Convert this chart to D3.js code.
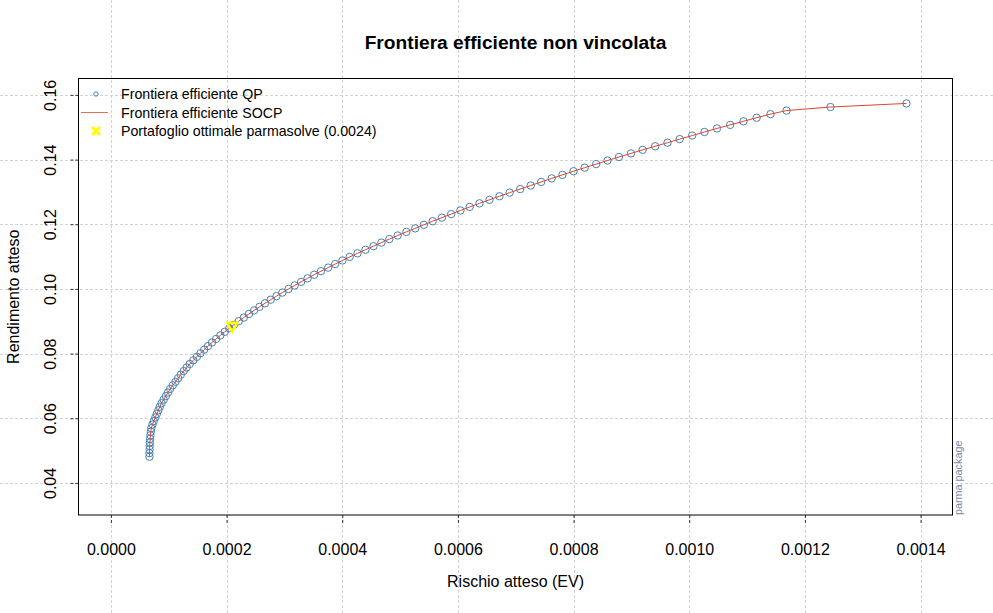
<!DOCTYPE html>
<html>
<head>
<meta charset="utf-8">
<script src="https://cdn.jsdelivr.net/npm/d3@7"></script>
<style>
  body { margin: 0; background: #fff; }
  text { font-family: "Liberation Sans", Arial, sans-serif; fill: #000; }
</style>
</head>
<body>
<div id="chart"></div>
<script>
// rendimento atteso (asse y), un punto ogni passo della frontiera QP
var rendimento = [
  0.04810, 0.04920, 0.05031, 0.05141, 0.05251, 0.05362, 0.05472, 0.05583, 0.05693, 0.05803,
  0.05914, 0.06024, 0.06134, 0.06245, 0.06355, 0.06465, 0.06576, 0.06686, 0.06796, 0.06907,
  0.07017, 0.07128, 0.07238, 0.07348, 0.07459, 0.07569, 0.07679, 0.07790, 0.07900, 0.08010,
  0.08121, 0.08231, 0.08342, 0.08452, 0.08562, 0.08673, 0.08783, 0.08893, 0.09004, 0.09114,
  0.09224, 0.09335, 0.09445, 0.09555, 0.09666, 0.09776, 0.09887, 0.09997, 0.10107, 0.10218,
  0.10328, 0.10438, 0.10549, 0.10659, 0.10769, 0.10880, 0.10990, 0.11101, 0.11211, 0.11321,
  0.11432, 0.11542, 0.11652, 0.11763, 0.11873, 0.11983, 0.12094, 0.12204, 0.12314, 0.12425,
  0.12535, 0.12646, 0.12756, 0.12866, 0.12977, 0.13087, 0.13197, 0.13308, 0.13418, 0.13528,
  0.13639, 0.13749, 0.13860, 0.13970, 0.14080, 0.14191, 0.14301, 0.14411, 0.14522, 0.14632,
  0.14742, 0.14853, 0.14963, 0.15073, 0.15184, 0.15294, 0.15405, 0.15515, 0.15625, 0.15736
]
// rischio atteso (EV), asse x
var rischio = [
  0.0000667, 0.0000667, 0.0000669, 0.0000671, 0.0000674, 0.0000678, 0.0000683, 0.0000690, 0.0000699, 0.0000718,
  0.0000742, 0.0000768, 0.0000794, 0.0000820, 0.0000846, 0.0000877, 0.0000913, 0.0000951, 0.0000987, 0.0001024,
  0.0001070, 0.0001117, 0.0001162, 0.0001209, 0.0001259, 0.0001311, 0.0001364, 0.0001425, 0.0001487, 0.0001549,
  0.0001613, 0.0001679, 0.0001748, 0.0001819, 0.0001893, 0.0001969, 0.0002047, 0.0002128, 0.0002211, 0.0002298,
  0.0002386, 0.0002476, 0.0002569, 0.0002664, 0.0002763, 0.0002863, 0.0002965, 0.0003071, 0.0003178, 0.0003289,
  0.0003401, 0.0003515, 0.0003633, 0.0003757, 0.0003878, 0.0004004, 0.0004129, 0.0004264, 0.0004402, 0.0004541,
  0.0004677, 0.0004815, 0.0004959, 0.0005109, 0.0005262, 0.0005412, 0.0005564, 0.0005723, 0.0005884, 0.0006043,
  0.0006204, 0.0006373, 0.0006546, 0.0006719, 0.0006895, 0.0007077, 0.0007259, 0.0007440, 0.0007622, 0.0007808,
  0.0007999, 0.0008192, 0.0008391, 0.0008587, 0.0008785, 0.0008993, 0.0009195, 0.0009411, 0.0009624, 0.0009835,
  0.0010051, 0.0010264, 0.0010480, 0.0010708, 0.0010938, 0.0011166, 0.0011405, 0.0011682, 0.0012442, 0.0013756
]
// portafoglio ottimale parmasolve
var ottimo = [0.0002097, 0.08828]

var xTicks = [0, 0.0002, 0.0004, 0.0006, 0.0008, 0.0010, 0.0012, 0.0014]
var yTicks = [0.04, 0.06, 0.08, 0.10, 0.12, 0.14, 0.16]
var legendLabels = ["Frontiera efficiente QP", "Frontiera efficiente SOCP", "Portafoglio ottimale parmasolve (0.0024)"]

var W = 993, H = 613
var margin = {top: 78.5, right: 40.5, bottom: 98, left: 78.5}

var svg = d3.select("#chart").append("svg")
    .attr("width", W)
    .attr("height", H)

svg.append("rect").attr("width", W).attr("height", H).attr("fill", "#fff")

var x = d3.scaleLinear()
    .domain([-0.0000560, 0.0014552])
    .range([margin.left, W - margin.right])
var y = d3.scaleLinear()
    .domain([0.03008, 0.16507])
    .range([H - margin.bottom, margin.top])

// griglia tratteggiata su tutta la figura
svg.append("g").selectAll("line")
    .data(xTicks).enter().append("line")
    .attr("x1", d => Math.round(x(d)) + 0.5).attr("x2", d => Math.round(x(d)) + 0.5)
    .attr("y1", 0).attr("y2", H)
    .attr("stroke", "#d3d3d3").attr("stroke-dasharray", "3,2")
svg.append("g").selectAll("line")
    .data(yTicks).enter().append("line")
    .attr("y1", d => Math.round(y(d)) + 0.5).attr("y2", d => Math.round(y(d)) + 0.5)
    .attr("x1", 0).attr("x2", W)
    .attr("stroke", "#d3d3d3").attr("stroke-dasharray", "3,2")

var xAxis = svg.append("g")
    .attr("transform", "translate(0," + (H - margin.bottom) + ")")
    .call(d3.axisBottom(x).tickValues(xTicks).tickFormat(d3.format(".4f")).tickSize(8).tickPadding(21))
xAxis.select(".domain").remove()
xAxis.selectAll("line").attr("stroke", "#333").attr("stroke-dasharray", "3,2")
xAxis.selectAll("text").attr("font-size", 16).attr("fill", "#000")

var yAxis = svg.append("g")
    .attr("transform", "translate(" + margin.left + ",0)")
    .call(d3.axisLeft(y).tickValues(yTicks).tickFormat(d3.format(".2f")).tickSize(8))
yAxis.select(".domain").remove()
yAxis.selectAll("line").attr("stroke", "#333").attr("stroke-dasharray", "3,2")
yAxis.selectAll("text")
    .attr("font-size", 16).attr("fill", "#000")
    .attr("x", 0).attr("dy", null)
    .attr("text-anchor", "middle")
    .attr("transform", "translate(-23,0) rotate(-90)")

// punti QP
var pts = rischio.map((r, i) => [r, rendimento[i]])
svg.append("g").selectAll("circle")
    .data(pts).enter().append("circle")
    .attr("cx", d => x(d[0])).attr("cy", d => y(d[1]))
    .attr("r", 3.7)
    .attr("fill", "none")
    .attr("stroke", "#4682b4").attr("stroke-width", 1)

// linea SOCP
var line = d3.line().x(d => x(d[0])).y(d => y(d[1]))
svg.append("path")
    .attr("d", line(pts))
    .attr("fill", "none")
    .attr("stroke", "#d9472b").attr("stroke-width", 1)

// portafoglio ottimale
var ox = x(ottimo[0]), oy = y(ottimo[1])
svg.append("path")
    .attr("d", "M" + (ox - 5) + "," + (oy - 4) + "L" + (ox + 5) + "," + (oy - 4) + "L" + ox + "," + (oy + 5) + "Z")
    .attr("fill", "none").attr("stroke", "#ffff00").attr("stroke-width", 2.5)

// riquadro
svg.append("rect")
    .attr("x", margin.left).attr("y", margin.top)
    .attr("width", W - margin.left - margin.right)
    .attr("height", H - margin.top - margin.bottom)
    .attr("fill", "none").attr("stroke", "#000").attr("stroke-width", 1)

// legenda
var leg = svg.append("g")
var rows = [94, 112.5, 131]
leg.append("circle").attr("cx", 96).attr("cy", rows[0]).attr("r", 2.2)
    .attr("fill", "none").attr("stroke", "#4682b4")
leg.append("line").attr("x1", 81).attr("x2", 108).attr("y1", rows[1]).attr("y2", rows[1])
    .attr("stroke", "#e8705a").attr("stroke-width", 1)
leg.append("path")
    .attr("d", "M92,127L100,135M100,127L92,135")
    .attr("stroke", "#ffff00").attr("stroke-width", 3)
leg.selectAll("text")
    .data(legendLabels).enter().append("text")
    .attr("x", 121).attr("y", (d, i) => rows[i] + 5)
    .attr("font-size", 14.2)
    .text(d => d)

// titoli
svg.append("text")
    .attr("x", (margin.left + W - margin.right) / 2).attr("y", 49)
    .attr("text-anchor", "middle")
    .attr("font-size", 19.2).attr("font-weight", "bold")
    .text("Frontiera efficiente non vincolata")
svg.append("text")
    .attr("x", (margin.left + W - margin.right) / 2).attr("y", 587)
    .attr("text-anchor", "middle")
    .attr("font-size", 16)
    .text("Rischio atteso (EV)")
svg.append("text")
    .attr("transform", "translate(18.5," + ((margin.top + H - margin.bottom) / 2) + ") rotate(-90)")
    .attr("text-anchor", "middle")
    .attr("font-size", 16)
    .text("Rendimento atteso")
svg.append("text")
    .attr("transform", "translate(962," + (H - margin.bottom) + ") rotate(-90)")
    .attr("text-anchor", "start")
    .attr("font-size", 10.8)
    .style("fill", "#7a86a8")
    .text("parma package")
</script>
</body>
</html>
